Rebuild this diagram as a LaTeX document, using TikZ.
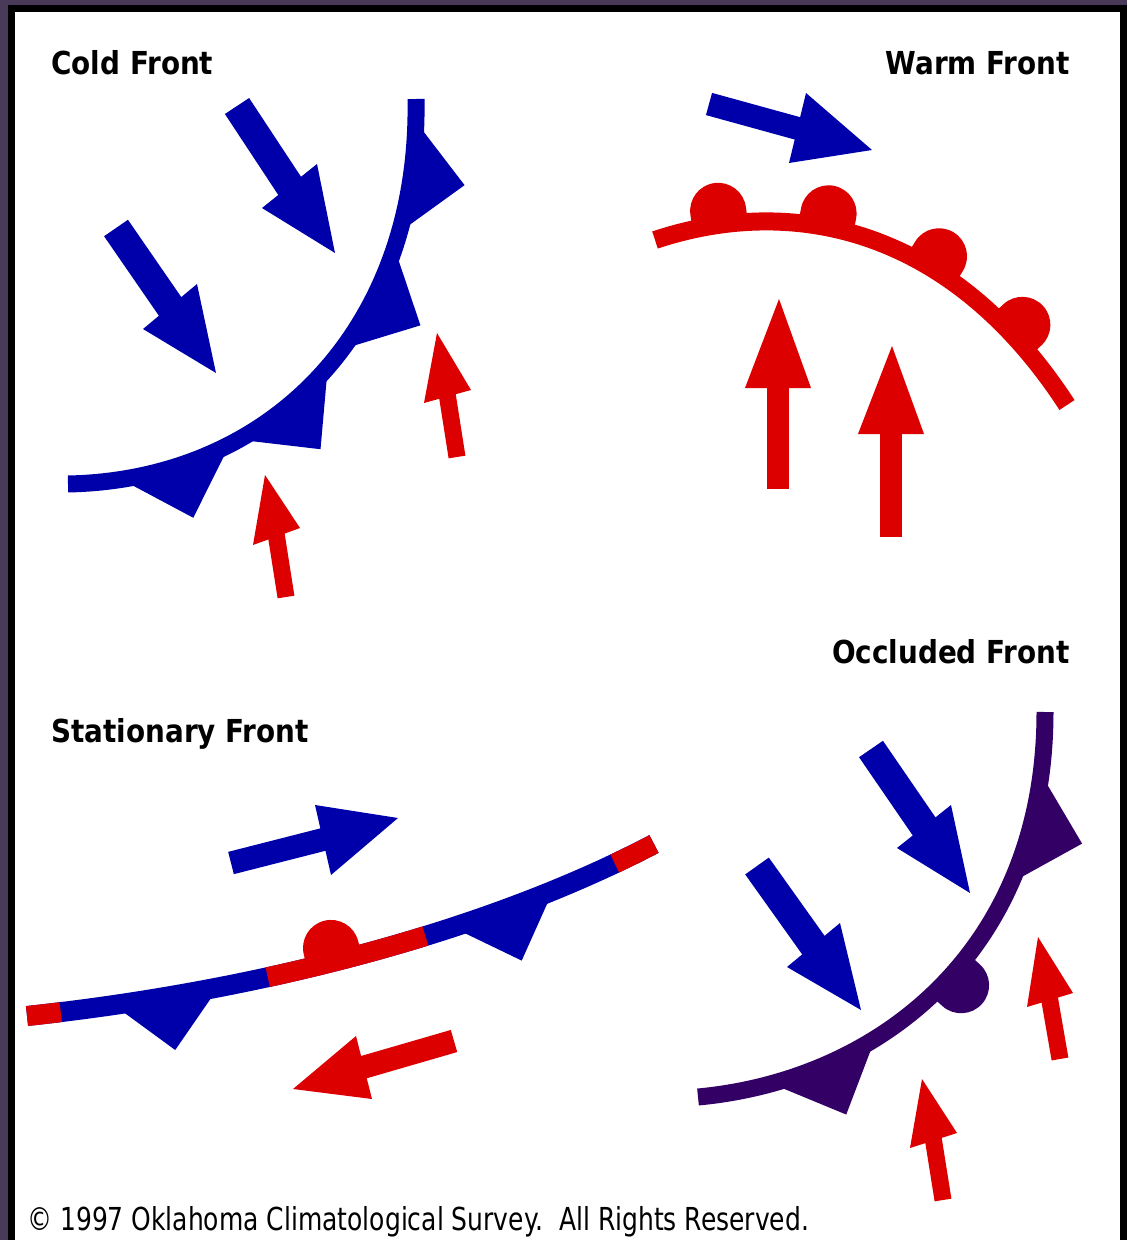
\documentclass[tikz,border=0pt]{standalone}
\usepackage{fontspec}
\usetikzlibrary{decorations.markings}

\newfontfamily\titlefont{DejaVu Sans}[FakeStretch=0.88]
\newfontfamily\notefont{DejaVu Sans}[FakeStretch=0.79]

\definecolor{coldblue}{RGB}{0,0,170}
\definecolor{warmred}{RGB}{221,0,0}
\definecolor{occpurple}{RGB}{51,0,102}
\definecolor{stormbg}{RGB}{72,58,88}

% triangulo y semicirculo sobre la linea del frente
\newcommand{\frontbarb}[1]{\fill[#1] (-1.05cm,0) -- (1.05cm,0) -- (0,-1.08cm) -- cycle;}
\newcommand{\frontbump}[2]{\fill[#1] (-0.56cm,0) -- (-0.56cm,{(#2)*0.28cm}) arc[start angle=180, end angle={180-(#2)*180}, radius=0.56cm] -- (0.56cm,0) -- cycle;}

\tikzset{
	front/.style={line width=#1, line cap=butt},
	windshaft/.style={line width=#1, line cap=butt},
	frontlabel/.style={font=\titlefont\bfseries\fontsize{18}{20}\selectfont, inner sep=0pt},
	notelabel/.style={font=\notefont\fontsize{18}{20}\selectfont, inner sep=0pt}
}

\begin{document}
\begin{tikzpicture}[x=0.02cm, y=-0.02cm]
	% Fondo y marco
	\fill[stormbg] (0,0) rectangle (1127,1240);
	\fill[black] (8,5) rectangle (1127,1240);
	\fill[white] (15,12) rectangle (1120,1240);
	
	% Titulos
	\node[frontlabel, anchor=base west] (cold) at (51,75) {Cold Front};
	\node[frontlabel, anchor=base east] (warm) at (1070,75) {Warm Front};
	\node[frontlabel, anchor=base east] (occluded) at (1070,663) {Occluded Front};
	\node[frontlabel, anchor=base west] (stationary) at (51,742) {Stationary Front};
	\node[notelabel, anchor=base west] (copyright) at (27,1230) {© 1997 Oklahoma Climatological Survey.\ \ All Rights Reserved.};
	
	% Frente frio
	\draw[coldblue, front=0.34cm, postaction={decorate}, decoration={markings,
		mark=at position 0.19 with {\frontbarb{coldblue}},
		mark=at position 0.405 with {\frontbarb{coldblue}},
		mark=at position 0.642 with {\frontbarb{coldblue}},
		mark=at position 0.865 with {\frontbarb{coldblue}}}]
		(68,484) .. controls (270,480) and (420,330) .. (416,99);
	\draw[coldblue, windshaft=0.58cm] (237,106) -- (295,194);
	\fill[coldblue] (262,208) -- (317,164) -- (335,253) -- cycle;
	\draw[coldblue, windshaft=0.58cm] (116,228) -- (176,315);
	\fill[coldblue] (143,329) -- (197,284) -- (216,373) -- cycle;
	\draw[warmred, windshaft=0.34cm] (457,457) -- (446,387);
	\fill[warmred] (424,403) -- (471,390) -- (437,333) -- cycle;
	\draw[warmred, windshaft=0.34cm] (286,597) -- (275,527);
	\fill[warmred] (253,545) -- (300,528) -- (265,475) -- cycle;
	
	% Frente calido
	\draw[warmred, front=0.36cm, postaction={decorate}, decoration={markings,
		mark=at position 0.139 with {\frontbump{warmred}{1}},
		mark=at position 0.36 with {\frontbump{warmred}{1}},
		mark=at position 0.597 with {\frontbump{warmred}{1}},
		mark=at position 0.814 with {\frontbump{warmred}{1}}}]
		(655,240) .. controls (790,195) and (950,225) .. (1067,405);
	\draw[coldblue, windshaft=0.46cm] (709,104) -- (807,131);
	\fill[coldblue] (806,93) -- (789,163) -- (872,150) -- cycle;
	\draw[warmred, windshaft=0.44cm] (778,489) -- (778,380);
	\fill[warmred] (745,388) -- (811,388) -- (779,299) -- cycle;
	\draw[warmred, windshaft=0.44cm] (891,537) -- (891,426);
	\fill[warmred] (858,434) -- (924,434) -- (892,346) -- cycle;
	
	% Frente estacionario
	\draw[coldblue, front=0.4cm] (27,1016) .. controls (250,992) and (480,935) .. (654,844);
	\draw[warmred, front=0.4cm, dash pattern=on 0.68cm off 4.2cm on 3.26cm off 4.06cm on 1.2cm,
		postaction={decorate}, decoration={markings,
		mark=at position 0.215 with {\frontbarb{coldblue}},
		mark=at position 0.478 with {\frontbump{warmred}{1}},
		mark=at position 0.748 with {\frontbarb{coldblue}}}]
		(27,1016) .. controls (250,992) and (480,935) .. (654,844);
	\draw[coldblue, windshaft=0.46cm] (231,863) -- (333,837);
	\fill[coldblue] (315,805) -- (331,875) -- (398,818) -- cycle;
	\draw[warmred, windshaft=0.46cm] (454,1041) -- (354,1070);
	\fill[warmred] (356,1036) -- (372,1099) -- (293,1089) -- cycle;
	
	% Frente ocluido
	\draw[occpurple, front=0.34cm, postaction={decorate}, decoration={markings,
		mark=at position 0.229 with {\frontbarb{occpurple}},
		mark=at position 0.5 with {\frontbump{occpurple}{-1}},
		mark=at position 0.793 with {\frontbarb{occpurple}}}]
		(698,1097) .. controls (880,1080) and (1045,950) .. (1045,712);
	\draw[coldblue, windshaft=0.58cm] (871,749) -- (930,835);
	\fill[coldblue] (897,848) -- (951,805) -- (970,893) -- cycle;
	\draw[coldblue, windshaft=0.58cm] (757,866) -- (819,953);
	\fill[coldblue] (787,967) -- (840,923) -- (861,1010) -- cycle;
	\draw[warmred, windshaft=0.34cm] (1060,1059) -- (1048,990);
	\fill[warmred] (1027,1007) -- (1073,993) -- (1038,937) -- cycle;
	\draw[warmred, windshaft=0.34cm] (943,1200) -- (932,1131);
	\fill[warmred] (910,1148) -- (957,1133) -- (922,1079) -- cycle;
\end{tikzpicture}
\end{document}
